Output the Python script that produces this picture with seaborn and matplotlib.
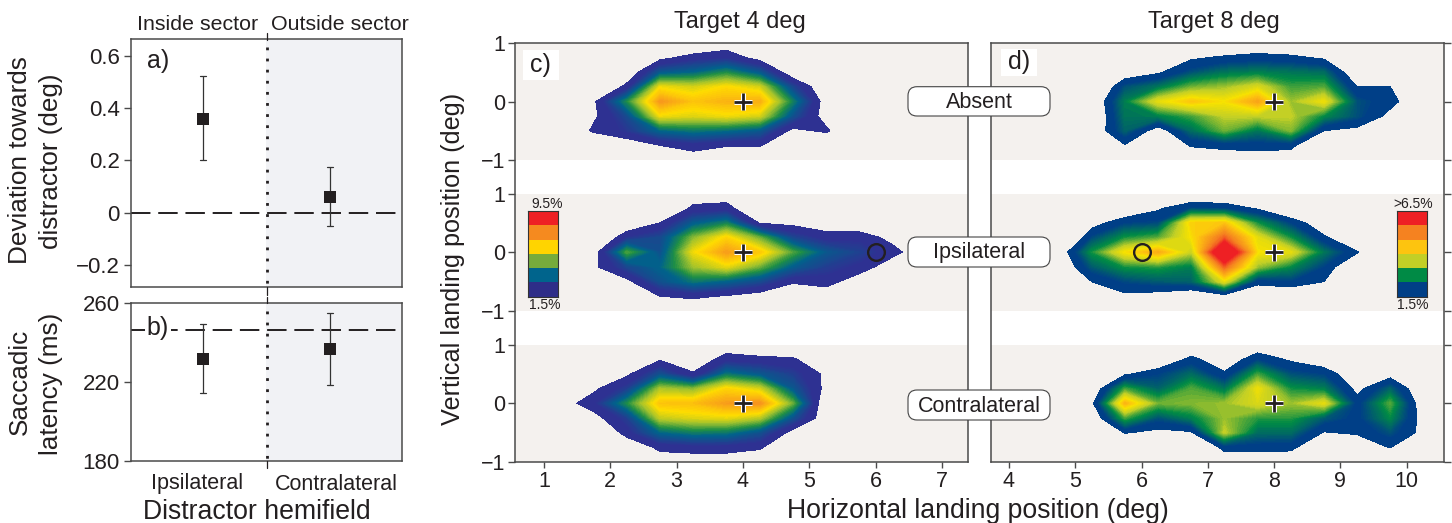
import matplotlib
matplotlib.use("Agg")
import matplotlib.pyplot as plt
import matplotlib.patheffects as pe
from matplotlib.colors import LinearSegmentedColormap, ListedColormap
from matplotlib.lines import Line2D
from matplotlib.patches import FancyBboxPatch, Rectangle
from matplotlib.transforms import IdentityTransform
import numpy as np
import pandas as pd
import seaborn as sns

W, H = 1452, 523
INK = "#231f20"
FRAME = "#4a4a4a"

# Panels a and b
hemifields = ["Ipsilateral", "Contralateral"]
deviation = [0.36, 0.061]
deviation_hi = [0.523, 0.176]
deviation_lo = [0.202, -0.052]
latency = [231.8, 236.7]
latency_hi = [249.4, 254.8]
latency_lo = [214.3, 218.6]
baseline_latency = 246.5

# Landing maps: percent of saccades on a 0.5 x 0.25 deg grid
map_y = [1, 0.75, 0.5, 0.25, 0, -0.25, -0.5, -0.75, -1]
map_x_c = [1.25, 1.75, 2.25, 2.75, 3.25, 3.75, 4.25, 4.75, 5.25, 5.75, 6.25, 6.75]
map_x_d = [4.75, 5.25, 5.75, 6.25, 6.75, 7.25, 7.75, 8.25, 8.75, 9.25, 9.75, 10.25]

c_absent = [
    [0, 0, 0, 0, 0.3, 0.9, 0, 0, 0, 0, 0, 0],
    [0, 0, 0, 1.2, 1.9, 2.1, 1.1, 0, 0, 0, 0, 0],
    [0, 0, 0.6, 3.2, 3.5, 4.2, 3.2, 0.7, 0, 0, 0, 0],
    [0, 0, 1.8, 6.0, 5.7, 6.2, 5.7, 2.7, 0.5, 0, 0, 0],
    [0, 1.3, 4.2, 7.4, 6.6, 6.9, 7.0, 4.0, 0.95, 0, 0, 0],
    [0, 1.3, 2.8, 6.0, 5.8, 6.0, 5.7, 3.0, 1.0, 0, 0, 0],
    [0, 1.7, 2.3, 3.5, 3.8, 3.6, 3.2, 1.2, 1.7, 0, 0, 0],
    [0, 0, 0.8, 1.5, 1.9, 1.6, 1.6, 0.3, 0, 0, 0, 0],
    [0, 0, 0, 0, 0.9, 0.3, 0, 0, 0, 0, 0, 0],
]
c_ipsi = [
    [0, 0, 0, 0, 0.9, 1.0, 0, 0, 0, 0, 0, 0],
    [0, 0, 0, 0.2, 1.7, 1.8, 0.5, 0, 0, 0, 0, 0],
    [0, 0, 0.5, 1.5, 3.3, 4.0, 1.4, 1.2, 0.9, 0.7, 0, 0],
    [0, 0, 2.2, 2.8, 5.0, 6.3, 4.8, 2.7, 1.9, 2.0, 1.2, 0],
    [0, 1.0, 4.6, 3.0, 6.0, 7.3, 6.5, 4.6, 3.2, 2.6, 1.8, 0.8],
    [0, 1.3, 2.7, 3.5, 5.2, 5.9, 4.8, 3.3, 2.5, 2.0, 0.9, 0],
    [0, 0, 1.2, 3.0, 3.8, 3.4, 2.8, 1.7, 1.9, 0.9, 0, 0],
    [0, 0, 0, 1.5, 1.7, 1.4, 1.0, 0, 0.8, 0, 0, 0],
    [0, 0, 0, 0, 0.5, 0, 0, 0, 0, 0, 0, 0],
]
c_contra = [
    [0, 0, 0, 0, 0, 0.9, 0.4, 0, 0, 0, 0, 0],
    [0, 0, 0, 1.4, 0.8, 1.9, 1.8, 1.7, 0.2, 0, 0, 0],
    [0, 0, 1.3, 3.0, 1.6, 3.8, 3.2, 2.5, 1.3, 0, 0, 0],
    [0, 1.3, 2.5, 5.3, 5.0, 6.3, 5.7, 3.2, 1.2, 0, 0, 0],
    [1.0, 2.0, 4.2, 6.6, 6.7, 7.3, 7.5, 4.8, 0.5, 0, 0, 0],
    [0, 1.1, 2.5, 5.5, 5.8, 5.9, 5.4, 3.0, 0.8, 0, 0, 0],
    [0, 0, 1.9, 3.5, 3.9, 3.8, 3.0, 1.1, 0, 0, 0, 0],
    [0, 0, 0.6, 1.75, 1.9, 1.9, 1.7, 0, 0, 0, 0, 0],
    [0, 0, 0, 0.9, 0.9, 0.9, 0.4, 0, 0, 0, 0, 0],
]
d_absent = [
    [0, 0, 0, 0, 0, 0.8, 1.0, 0.8, 0, 0, 0, 0],
    [0, 0, 0, 0, 1.4, 1.6, 1.7, 1.65, 1.4, 0, 0, 0],
    [0, 0, 1.0, 1.4, 2.1, 2.5, 2.6, 2.5, 2.4, 0.9, 0.3, 0],
    [0, 0.4, 2.1, 2.5, 3.2, 3.4, 3.8, 3.0, 3.1, 1.5, 1.5, 0],
    [0, 0.8, 2.6, 3.9, 4.4, 4.1, 4.8, 3.4, 4.0, 2.1, 1.7, 0.9],
    [0, 0.7, 2.5, 2.6, 3.0, 3.6, 3.6, 3.6, 2.7, 2.1, 1.3, 0],
    [0, 0.9, 2.3, 1.1, 2.4, 3.2, 2.5, 3.3, 1.5, 1.3, 0, 0],
    [0, 0, 1.45, 0.4, 1.6, 1.7, 1.75, 1.7, 0.4, 0, 0, 0],
    [0, 0, 0, 0, 0.6, 1.0, 1.1, 1.0, 0, 0, 0, 0],
]
d_ipsi = [
    [0, 0, 0, 0, 0.7, 0.7, 0, 0, 0, 0, 0, 0],
    [0, 0, 0.8, 1.4, 2.0, 1.9, 1.4, 0.6, 0, 0, 0, 0],
    [0, 1.2, 1.9, 2.0, 4.3, 4.4, 2.8, 1.9, 1.0, 0, 0, 0],
    [0, 2.0, 2.8, 3.1, 4.1, 5.5, 3.9, 2.8, 1.6, 0.8, 0, 0],
    [1.0, 2.8, 4.1, 4.7, 3.6, 7.3, 4.1, 3.9, 2.5, 1.55, 0.5, 0],
    [0.8, 2.2, 2.8, 2.9, 2.6, 5.5, 3.4, 2.7, 1.9, 0.7, 0, 0],
    [0, 1.5, 2.0, 2.2, 2.3, 3.9, 1.7, 1.9, 1.5, 0, 0, 0],
    [0, 0.3, 1.34, 1.2, 0.87, 1.2, 0.8, 0.8, 0, 0, 0, 0],
    [0, 0, 0, 0, 0, 0, 0, 0, 0, 0, 0, 0],
]
d_contra = [
    [0, 0, 0, 0, 0.8, 0, 1.0, 0, 0, 0, 0, 0],
    [0, 0, 0, 0.8, 1.7, 1.0, 1.9, 1.4, 1.0, 0, 0, 0],
    [0, 0, 1.4, 1.9, 2.4, 1.6, 3.0, 2.1, 1.9, 0.9, 1.2, 0],
    [0, 0.9, 3.0, 2.3, 3.1, 2.5, 4.0, 2.8, 2.6, 1.3, 2.3, 0.8],
    [0, 1.3, 4.6, 3.2, 3.3, 3.4, 3.8, 3.4, 3.9, 1.75, 3.1, 1.0],
    [0, 0.9, 3.0, 2.1, 2.6, 3.4, 2.9, 2.9, 2.2, 1.8, 2.7, 1.2],
    [0, 0.1, 1.55, 1.3, 1.4, 3.6, 2.4, 2.4, 1.45, 1.6, 2.1, 1.3],
    [0, 0, 0, 0, 0.2, 1.75, 1.75, 1.7, 0.6, 0.8, 1.55, 0],
    [0, 0, 0, 0, 0, 0.9, 0.9, 0.9, 0, 0, 0, 0],
]

map_rows = ["Absent", "Ipsilateral", "Contralateral"]
target_c = 4
target_d = 8
distractor_c = 6
distractor_d = 6

# Colour scales: value, colour
scale_c = [(1.5, "#2e3192"), (2.17, "#2e3192"), (3.5, "#00628b"), (4.3, "#1f8f45"),
           (5.2, "#9ec12e"), (6.17, "#ffdd00"), (7.5, "#f7931e"), (8.83, "#ee2024"), (9.5, "#ee2024")]
scale_d = [(1.5, "#003f87"), (1.92, "#003f87"), (2.75, "#008a45"), (3.58, "#c2cf26"),
           (4.1, "#f7e200"), (4.42, "#fdc40f"), (5.25, "#f58220"), (6.08, "#ee2024"), (6.5, "#ee2024")]
bands_c = ["#ee2024", "#f58a1f", "#ffd400", "#76ab3c", "#00648c", "#2e2d88"]
bands_d = ["#ee2024", "#f58220", "#fdc40f", "#c2cf26", "#008a45", "#003f87"]


def px_axes(fig, left, top, right, bottom, **kw):
    return fig.add_axes([left / W, 1 - bottom / H, (right - left) / W, (bottom - top) / H], **kw)


def px_text(fig, x, y, s, **kw):
    kw.setdefault("ha", "center")
    kw.setdefault("va", "center")
    kw.setdefault("color", INK)
    return fig.text(x / W, 1 - y / H, s, **kw)


def make_cmap(scale):
    lo, hi = scale[0][0], scale[-1][0]
    return LinearSegmentedColormap.from_list("m", [((v - lo) / (hi - lo), c) for v, c in scale], N=256)


sns.set_theme(style="ticks")
plt.rcParams["font.family"] = ["Liberation Sans", "DejaVu Sans"]
plt.rcParams["axes.edgecolor"] = FRAME
plt.rcParams["axes.linewidth"] = 1.1
plt.rcParams["xtick.color"] = FRAME
plt.rcParams["ytick.color"] = FRAME
plt.rcParams["xtick.labelcolor"] = INK
plt.rcParams["ytick.labelcolor"] = INK

fig = plt.figure(figsize=(W / 100, H / 100), dpi=100, facecolor="white")


def point_panel(ax, values, hi, lo):
    df = pd.DataFrame({"hemifield": hemifields, "value": values})
    ax.axvspan(0.5, 1.567, color="#f1f2f5", lw=0, zorder=0)
    xs = np.arange(len(hemifields))
    ax.vlines(xs, lo, hi, color="#333333", lw=0.9, zorder=2)
    for x, a, b in zip(xs, lo, hi):
        ax.plot([x - 0.024, x + 0.024], [a, a], color="#333333", lw=0.9, zorder=2)
        ax.plot([x - 0.024, x + 0.024], [b, b], color="#333333", lw=0.9, zorder=2)
    sns.scatterplot(data=df, x=xs, y="value", marker="s", s=80, color=INK, linewidth=0, ax=ax, zorder=3)
    ax.set_xlim(-0.567, 1.567)
    ax.set_xticks([])
    ax.set_xlabel("")
    ax.set_ylabel("")
    ax.tick_params(axis="y", length=5, width=1, labelsize=16, pad=3)


ax_a = px_axes(fig, 131, 38.7, 402, 287)
point_panel(ax_a, deviation, deviation_hi, deviation_lo)
ax_a.axhline(0, color=INK, lw=1.4, dashes=(10, 4), zorder=1)
ax_a.set_ylim(-0.283, 0.665)
ax_a.set_yticks([-0.2, 0, 0.2, 0.4, 0.6], ["\u22120.2", "0", "0.2", "0.4", "0.6"])

ax_b = px_axes(fig, 131, 303, 402, 461)
point_panel(ax_b, latency, latency_hi, latency_lo)
ax_b.axhline(baseline_latency, color=INK, lw=1.4, dashes=(10, 4), zorder=1)
ax_b.set_ylim(180, 260)
ax_b.set_yticks([180, 220, 260], ["180", "220", "260"])

px_text(fig, 158, 61, "a)", fontsize=18, zorder=6)
px_text(fig, 158, 328, "b)", fontsize=18, zorder=6, bbox=dict(facecolor="white", edgecolor="none", pad=1))

# divider between the two hemifields, runs through both panels
divider = [Line2D([266.5, 266.5], [H - a, H - b], color=INK, lw=2.0, transform=IdentityTransform(),
                  dashes=(1, 3), zorder=5, dash_capstyle="butt")
           for a, b in [(47, 287), (311, 461)]]
ticks = [Line2D([266.5, 266.5], [H - a, H - b], color=INK, lw=0.9, transform=IdentityTransform(), zorder=5)
         for a, b in [(33, 40), (287, 295), (297, 303), (461, 468)]]
for ln in divider + ticks:
    fig.add_artist(ln)

px_text(fig, 197.5, 24, "Inside sector", fontsize=15.4)
px_text(fig, 339.7, 24, "Outside sector", fontsize=15.4)
px_text(fig, 197, 484, hemifields[0], fontsize=15.5)
px_text(fig, 336, 484, hemifields[1], fontsize=15.5)
px_text(fig, 257, 512, "Distractor hemifield", fontsize=19.2)
px_text(fig, 20, 160, "Deviation towards", fontsize=18.8, rotation=90)
px_text(fig, 51, 161, "distractor (deg)", fontsize=18.8, rotation=90)
px_text(fig, 20, 382, "Saccadic", fontsize=18.8, rotation=90)
px_text(fig, 51, 384, "latency (ms)", fontsize=18.8, rotation=90)

row_px = [(43.3, 159.7), (193.7, 310.7), (345, 461.7)]


def map_panel(left, right, xlim, xs, grids, scale, target, distractor, side):
    cmap = make_cmap(scale)
    levels = np.linspace(scale[0][0], scale[-1][0], 81)
    for i, (grid, (top, bottom)) in enumerate(zip(grids, row_px)):
        ax = px_axes(fig, left, top, right, bottom)
        ax.set_facecolor("#f4f1ee")
        for s in ax.spines.values():
            s.set_visible(False)
        cs = ax.contourf(xs, map_y, np.array(grid, dtype=float), levels=levels, cmap=cmap, extend="max")
        cs.set_edgecolor("face")
        cs.set_linewidth(0.25)
        halo = [pe.withStroke(linewidth=3.6, foreground="white")]
        ax.plot([target], [0], marker="+", ms=12.5, mew=2.0, color=INK, path_effects=halo, zorder=4)
        if i == 1:
            ax.plot([distractor], [0], marker="o", ms=12, mew=1.7, mfc="none", mec=INK, zorder=4)
        ax.set_xlim(xlim)
        ax.set_ylim(-1, 1)
        ax.set_xticks([])
        ax.set_yticks([-1, 0, 1])
        if side == "left":
            ax.set_yticklabels(["\u22121", "0", "1"])
            ax.tick_params(axis="y", length=5, width=1, labelsize=15.5, pad=2)
        else:
            ax.yaxis.tick_right()
            ax.set_yticklabels([])
            ax.tick_params(axis="y", length=5, width=1)
    frame = px_axes(fig, left, row_px[0][0], right, row_px[2][1], facecolor="none", zorder=3)
    frame.set_xlim(xlim)
    frame.set_yticks([])
    frame.tick_params(axis="x", length=4, width=1, labelsize=15.5, pad=3)
    return frame


frame_c = map_panel(515, 967.7, (0.563, 7.388), map_x_c, [c_absent, c_ipsi, c_contra], scale_c,
                    target_c, distractor_c, "left")
frame_c.set_xticks(range(1, 8))
frame_d = map_panel(991, 1443.7, (3.729, 10.558), map_x_d, [d_absent, d_ipsi, d_contra], scale_d,
                    target_d, distractor_d, "right")
frame_d.set_xticks(range(4, 11))

for (l, t, r, b, s) in [(522.7, 50, 559, 80, "c)"), (1000.7, 49, 1036.7, 75.7, "d)")]:
    fig.add_artist(Rectangle((l, H - b), r - l, b - t, transform=IdentityTransform(), facecolor="white",
                             edgecolor="none", zorder=4))
    px_text(fig, (l + r) / 2, (t + b) / 2, s, fontsize=18, zorder=6)


def legend_bar(left, top, right, bottom, bands, hi_text, lo_text, hi_dx, lo_dx):
    ax = px_axes(fig, left, top, right, bottom, zorder=4)
    sns.heatmap(np.arange(len(bands)).reshape(-1, 1), cmap=ListedColormap(bands), cbar=False,
                xticklabels=False, yticklabels=False, ax=ax)
    for s in ax.spines.values():
        s.set_visible(True)
        s.set_color("#333333")
        s.set_linewidth(0.8)
    cx = (left + right) / 2
    px_text(fig, cx + hi_dx, top - 7.5, hi_text, fontsize=10, zorder=6)
    px_text(fig, cx + lo_dx, bottom + 8.5, lo_text, fontsize=10, zorder=6)


legend_bar(528.3, 211, 558.3, 296.7, bands_c, "9.5%", "1.5%", 3.4, 1.7)
legend_bar(1397.3, 211, 1427, 296.7, bands_d, ">6.5%", "1.5%", 0.7, 1)

for name, (t, b) in zip(map_rows, [(86.7, 116), (237, 267), (390, 420)]):
    fig.add_artist(FancyBboxPatch((908, H - b), 142, b - t, boxstyle="round,pad=0,rounding_size=9",
                                  transform=IdentityTransform(), facecolor="white",
                                  edgecolor="#444444", lw=0.8, zorder=5))
    px_text(fig, 979.5, (t + b) / 2 + 1, name, fontsize=15.5, zorder=6)

px_text(fig, 739.5, 22, "Target 4 deg", fontsize=17)
px_text(fig, 1214, 22, "Target 8 deg", fontsize=17)
px_text(fig, 978, 511, "Horizontal landing position (deg)", fontsize=19.2)
px_text(fig, 453, 259, "Vertical landing position (deg)", fontsize=18.2, rotation=90)

fig.savefig("out.png", dpi=100)
